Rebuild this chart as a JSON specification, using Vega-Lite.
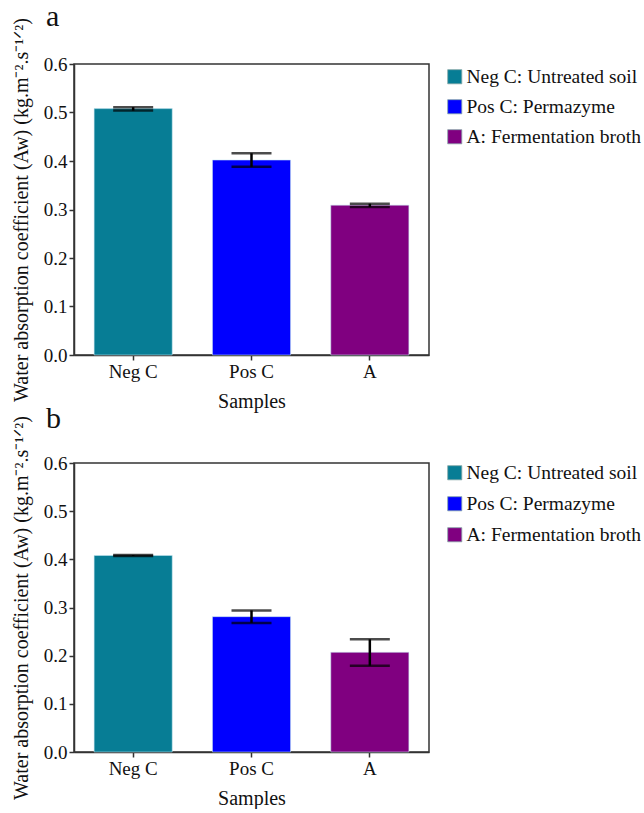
{
  "$schema": "https://vega.github.io/schema/vega-lite/v6.json",
  "background": "white",
  "padding": {"left": 10, "top": 0, "right": 0, "bottom": 0},
  "spacing": -10,
  "config": {
    "font": "Liberation Serif, serif",
    "view": {"stroke": "#333333", "strokeWidth": 1.5},
    "axis": {
      "labelFont": "Liberation Serif, serif",
      "titleFont": "Liberation Serif, serif",
      "labelFontSize": 19,
      "titleFontSize": 20,
      "titleFontWeight": "normal",
      "labelColor": "#111",
      "titleColor": "#111",
      "domainColor": "#333333",
      "domainWidth": 1.5,
      "tickColor": "#333333",
      "tickWidth": 1.5,
      "tickSize": 5,
      "grid": false
    },
    "legend": {
      "labelFont": "Liberation Serif, serif",
      "labelFontSize": 19.5,
      "labelColor": "#111",
      "labelLimit": 400
    },
    "title": {"font": "Liberation Serif, serif", "fontSize": 30, "fontWeight": "normal", "color": "#111"}
  },
  "datasets": {
    "bars": [
      {"panel": "a", "sample": "Neg C", "group": "Neg C: Untreated soil", "value": 0.508, "lo": 0.504, "hi": 0.511},
      {"panel": "a", "sample": "Pos C", "group": "Pos C: Permazyme", "value": 0.402, "lo": 0.388, "hi": 0.416},
      {"panel": "a", "sample": "A", "group": "A: Fermentation broth", "value": 0.309, "lo": 0.305, "hi": 0.312},
      {"panel": "b", "sample": "Neg C", "group": "Neg C: Untreated soil", "value": 0.408, "lo": 0.407, "hi": 0.409},
      {"panel": "b", "sample": "Pos C", "group": "Pos C: Permazyme", "value": 0.281, "lo": 0.268, "hi": 0.294},
      {"panel": "b", "sample": "A", "group": "A: Fermentation broth", "value": 0.207, "lo": 0.179, "hi": 0.234}
    ]
  },
  "vconcat": [
    {
      "title": {"text": "a", "anchor": "start", "frame": "group", "dx": -28, "offset": -14},
      "width": 355,
      "height": 291,
      "data": {"name": "bars"},
      "transform": [{"filter": "datum.panel === 'a'"}],
      "encoding": {
        "x": {
          "field": "sample", "type": "nominal", "sort": ["Neg C", "Pos C", "A"],
          "scale": {"paddingInner": 0.34, "paddingOuter": 0.17},
          "axis": {"title": "Samples", "labelAngle": 0, "labelPadding": 2, "titlePadding": 10}
        }
      },
      "layer": [
        {
          "mark": {"type": "bar", "stroke": "#c8e6f0", "strokeWidth": 0.8, "strokeOpacity": 0.7},
          "encoding": {
            "y": {
              "field": "value", "type": "quantitative",
              "scale": {"domain": [0, 0.6], "nice": false},
              "axis": {"title": "Water absorption coefficient (Aw) (kg.m\u207b\u00b2.s\u207b\u00b9\u141f\u00b2)", "values": [0, 0.1, 0.2, 0.3, 0.4, 0.5, 0.6], "format": ".1f", "labelPadding": 2, "titlePadding": 12}
            },
            "color": {
              "field": "group", "type": "nominal",
              "scale": {"domain": ["Neg C: Untreated soil", "Pos C: Permazyme", "A: Fermentation broth"], "range": ["#077d95", "#0000ff", "#800080"]},
              "legend": {"title": null, "orient": "none", "legendX": 371, "legendY": 3, "symbolType": "square", "symbolSize": 200, "symbolStrokeWidth": 0.8, "symbolStrokeColor": "#8aa", "rowPadding": 9, "labelOffset": 2, "padding": 0}
            }
          }
        },
        {
          "mark": {"type": "rule", "color": "black", "strokeWidth": 2.5},
          "encoding": {
            "y": {"field": "lo", "type": "quantitative"},
            "y2": {"field": "hi"}
          }
        },
        {
          "mark": {"type": "tick", "color": "black", "thickness": 2.5, "size": 40},
          "encoding": {"y": {"field": "lo", "type": "quantitative"}}
        },
        {
          "mark": {"type": "tick", "color": "black", "thickness": 2.5, "size": 40},
          "encoding": {"y": {"field": "hi", "type": "quantitative"}}
        }
      ]
    },
    {
      "title": {"text": "b", "anchor": "start", "frame": "group", "dx": -28, "offset": -18},
      "width": 355,
      "height": 289,
      "data": {"name": "bars"},
      "transform": [{"filter": "datum.panel === 'b'"}],
      "encoding": {
        "x": {
          "field": "sample", "type": "nominal", "sort": ["Neg C", "Pos C", "A"],
          "scale": {"paddingInner": 0.34, "paddingOuter": 0.17},
          "axis": {"title": "Samples", "labelAngle": 0, "labelPadding": 2, "titlePadding": 10}
        }
      },
      "layer": [
        {
          "mark": {"type": "bar", "stroke": "#c8e6f0", "strokeWidth": 0.8, "strokeOpacity": 0.7},
          "encoding": {
            "y": {
              "field": "value", "type": "quantitative",
              "scale": {"domain": [0, 0.6], "nice": false},
              "axis": {"title": "Water absorption coefficient (Aw) (kg.m\u207b\u00b2.s\u207b\u00b9\u141f\u00b2)", "values": [0, 0.1, 0.2, 0.3, 0.4, 0.5, 0.6], "format": ".1f", "labelPadding": 2, "titlePadding": 12}
            },
            "color": {
              "field": "group", "type": "nominal",
              "scale": {"domain": ["Neg C: Untreated soil", "Pos C: Permazyme", "A: Fermentation broth"], "range": ["#077d95", "#0000ff", "#800080"]},
              "legend": {"title": null, "orient": "none", "legendX": 371, "legendY": 0, "symbolType": "square", "symbolSize": 200, "symbolStrokeWidth": 0.8, "symbolStrokeColor": "#8aa", "rowPadding": 10, "labelOffset": 2, "padding": 0}
            }
          }
        },
        {
          "mark": {"type": "rule", "color": "black", "strokeWidth": 2.5},
          "encoding": {
            "y": {"field": "lo", "type": "quantitative"},
            "y2": {"field": "hi"}
          }
        },
        {
          "mark": {"type": "tick", "color": "black", "thickness": 2.5, "size": 40},
          "encoding": {"y": {"field": "lo", "type": "quantitative"}}
        },
        {
          "mark": {"type": "tick", "color": "black", "thickness": 2.5, "size": 40},
          "encoding": {"y": {"field": "hi", "type": "quantitative"}}
        }
      ]
    }
  ],
  "resolve": {"scale": {"color": "independent"}, "legend": {"color": "independent"}}
}
